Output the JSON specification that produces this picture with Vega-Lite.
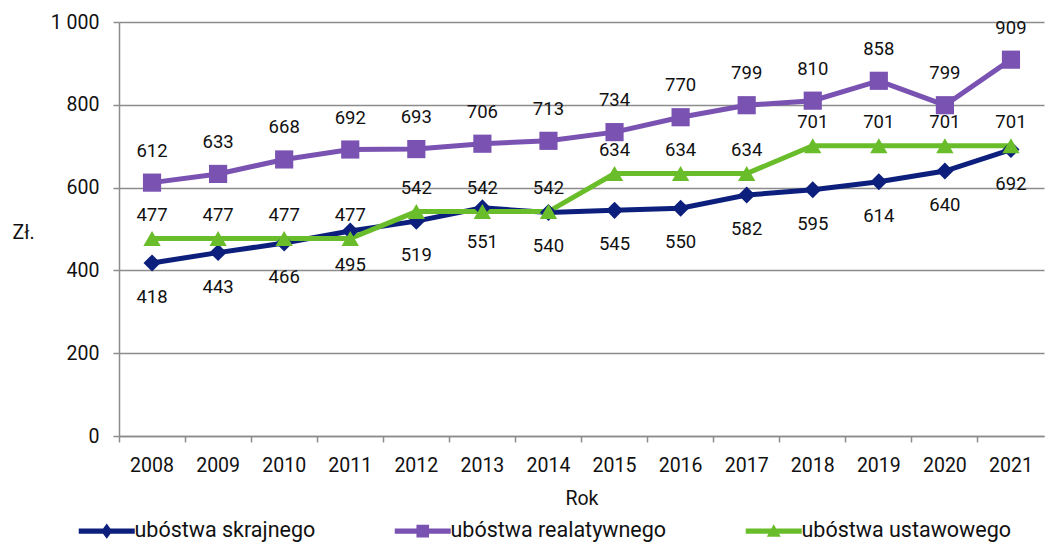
{
  "$schema": "https://vega.github.io/schema/vega-lite/v6.json",
  "width": 925,
  "height": 414,
  "autosize": "none",
  "padding": {"left": 119, "top": 22, "right": 1, "bottom": 107},
  "background": "white",
  "config": {
    "font": "Roboto",
    "view": {"stroke": null},
    "axis": {"labelFont": "Roboto", "titleFont": "Roboto", "labelColor": "#111", "titleColor": "#111", "titleFontWeight": "normal"}
  },
  "data": {"values": [
    {"rok": "2008", "seria": "ubóstwa skrajnego", "kwota": 418},
    {"rok": "2009", "seria": "ubóstwa skrajnego", "kwota": 443},
    {"rok": "2010", "seria": "ubóstwa skrajnego", "kwota": 466},
    {"rok": "2011", "seria": "ubóstwa skrajnego", "kwota": 495},
    {"rok": "2012", "seria": "ubóstwa skrajnego", "kwota": 519},
    {"rok": "2013", "seria": "ubóstwa skrajnego", "kwota": 551},
    {"rok": "2014", "seria": "ubóstwa skrajnego", "kwota": 540},
    {"rok": "2015", "seria": "ubóstwa skrajnego", "kwota": 545},
    {"rok": "2016", "seria": "ubóstwa skrajnego", "kwota": 550},
    {"rok": "2017", "seria": "ubóstwa skrajnego", "kwota": 582},
    {"rok": "2018", "seria": "ubóstwa skrajnego", "kwota": 595},
    {"rok": "2019", "seria": "ubóstwa skrajnego", "kwota": 614},
    {"rok": "2020", "seria": "ubóstwa skrajnego", "kwota": 640},
    {"rok": "2021", "seria": "ubóstwa skrajnego", "kwota": 692},
    {"rok": "2008", "seria": "ubóstwa realatywnego", "kwota": 612},
    {"rok": "2009", "seria": "ubóstwa realatywnego", "kwota": 633},
    {"rok": "2010", "seria": "ubóstwa realatywnego", "kwota": 668},
    {"rok": "2011", "seria": "ubóstwa realatywnego", "kwota": 692},
    {"rok": "2012", "seria": "ubóstwa realatywnego", "kwota": 693},
    {"rok": "2013", "seria": "ubóstwa realatywnego", "kwota": 706},
    {"rok": "2014", "seria": "ubóstwa realatywnego", "kwota": 713},
    {"rok": "2015", "seria": "ubóstwa realatywnego", "kwota": 734},
    {"rok": "2016", "seria": "ubóstwa realatywnego", "kwota": 770},
    {"rok": "2017", "seria": "ubóstwa realatywnego", "kwota": 799},
    {"rok": "2018", "seria": "ubóstwa realatywnego", "kwota": 810},
    {"rok": "2019", "seria": "ubóstwa realatywnego", "kwota": 858},
    {"rok": "2020", "seria": "ubóstwa realatywnego", "kwota": 799},
    {"rok": "2021", "seria": "ubóstwa realatywnego", "kwota": 909},
    {"rok": "2008", "seria": "ubóstwa ustawowego", "kwota": 477},
    {"rok": "2009", "seria": "ubóstwa ustawowego", "kwota": 477},
    {"rok": "2010", "seria": "ubóstwa ustawowego", "kwota": 477},
    {"rok": "2011", "seria": "ubóstwa ustawowego", "kwota": 477},
    {"rok": "2012", "seria": "ubóstwa ustawowego", "kwota": 542},
    {"rok": "2013", "seria": "ubóstwa ustawowego", "kwota": 542},
    {"rok": "2014", "seria": "ubóstwa ustawowego", "kwota": 542},
    {"rok": "2015", "seria": "ubóstwa ustawowego", "kwota": 634},
    {"rok": "2016", "seria": "ubóstwa ustawowego", "kwota": 634},
    {"rok": "2017", "seria": "ubóstwa ustawowego", "kwota": 634},
    {"rok": "2018", "seria": "ubóstwa ustawowego", "kwota": 701},
    {"rok": "2019", "seria": "ubóstwa ustawowego", "kwota": 701},
    {"rok": "2020", "seria": "ubóstwa ustawowego", "kwota": 701},
    {"rok": "2021", "seria": "ubóstwa ustawowego", "kwota": 701}
  ]},
  "encoding": {
    "x": {
      "field": "rok", "type": "ordinal",
      "scale": {"type": "band", "paddingInner": 0, "paddingOuter": 0},
      "axis": {
        "title": "Rok", "titleFontSize": 19.5, "titlePadding": 15,
        "labelAngle": 0, "labelFontSize": 19.5, "labelPadding": 14,
        "bandPosition": 0, "tickSize": 6, "tickColor": "#8c8c8c", "tickWidth": 1.5,
        "domainColor": "#8c8c8c", "domainWidth": 1.5, "grid": false
      }
    },
    "y": {
      "field": "kwota", "type": "quantitative",
      "scale": {"domain": [0, 1000]},
      "axis": {
        "title": "Zł.", "titleAngle": 0, "titleAlign": "left", "titleBaseline": "middle",
        "titleX": -107, "titleY": 210, "titleFontSize": 19.5,
        "values": [0, 200, 400, 600, 800, 1000],
        "labelExpr": "replace(format(datum.value, ','), ',', ' ')",
        "labelFontSize": 19.5, "labelPadding": 14, "tickSize": 6,
        "tickColor": "#8c8c8c", "tickWidth": 1.5,
        "domainColor": "#8c8c8c", "domainWidth": 1.5,
        "gridColor": "#8c8c8c", "gridWidth": 1.5
      }
    }
  },
  "layer": [
    {
      "mark": {"type": "line", "strokeWidth": 5},
      "encoding": {
        "color": {
          "field": "seria", "type": "nominal",
          "scale": {"domain": ["ubóstwa skrajnego", "ubóstwa realatywnego", "ubóstwa ustawowego"], "range": ["#0c1f7c", "#7a52b2", "#6abd2a"]},
          "legend": {
            "title": null, "orient": "none", "direction": "horizontal",
            "legendX": -44, "legendY": 498,
            "labelFontSize": 21.5, "labelColor": "#111", "labelLimit": 400,
            "symbolSize": 196, "symbolOffset": 21, "labelOffset": 17,
            "columnPadding": 75,
            "encode": {
              "symbols": {
                "update": {
                  "shape": {"signal": "datum.value === 'ubóstwa skrajnego' ? 'M-4,-0.36H4V0.36H-4Z M0,-1.1L0.8,0L0,1.1L-0.8,0Z' : datum.value === 'ubóstwa realatywnego' ? 'M-4,-0.36H4V0.36H-4Z M-0.9,-0.9H0.9V0.9H-0.9Z' : 'M-4,-0.36H4V0.36H-4Z M0,-1L1,0.8H-1Z'"},
                  "fill": {"signal": "scale('color', datum.value)"},
                  "stroke": {"value": "transparent"},
                  "strokeWidth": {"value": 0},
                  "opacity": {"value": 1},
                  "fillOpacity": {"value": 1}
                }
              }
            }
          }
        }
      }
    },
    {
      "mark": {"type": "point", "filled": true, "opacity": 1},
      "transform": [{"filter": "datum.seria === 'ubóstwa skrajnego'"}],
      "encoding": {"shape": {"value": "diamond"}, "size": {"value": 290}, "color": {"value": "#0c1f7c"}}
    },
    {
      "mark": {"type": "point", "filled": true, "opacity": 1},
      "transform": [{"filter": "datum.seria === 'ubóstwa realatywnego'"}],
      "encoding": {"shape": {"value": "square"}, "size": {"value": 330}, "color": {"value": "#7a52b2"}}
    },
    {
      "mark": {"type": "point", "filled": true, "opacity": 1},
      "transform": [{"filter": "datum.seria === 'ubóstwa ustawowego'"}],
      "encoding": {"shape": {"value": "triangle-up"}, "size": {"value": 300}, "color": {"value": "#6abd2a"}}
    },
    {
      "mark": {"type": "text", "fontSize": 18.5, "dy": 34, "color": "#111"},
      "transform": [{"filter": "datum.seria === 'ubóstwa skrajnego'"}],
      "encoding": {"text": {"field": "kwota", "type": "quantitative"}}
    },
    {
      "mark": {"type": "text", "fontSize": 18.5, "dy": -32, "color": "#111"},
      "transform": [{"filter": "datum.seria === 'ubóstwa realatywnego'"}],
      "encoding": {"text": {"field": "kwota", "type": "quantitative"}}
    },
    {
      "mark": {"type": "text", "fontSize": 18.5, "dy": -24, "color": "#111"},
      "transform": [{"filter": "datum.seria === 'ubóstwa ustawowego'"}],
      "encoding": {"text": {"field": "kwota", "type": "quantitative"}}
    }
  ]
}
